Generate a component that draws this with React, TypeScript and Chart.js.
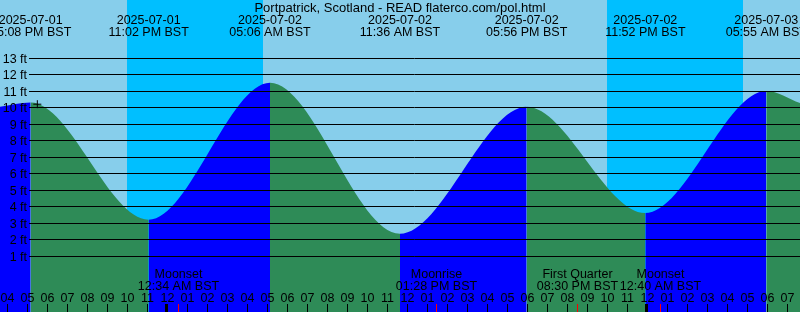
import React, { useEffect, useRef } from "react";
import { Chart, registerables } from "chart.js";

Chart.register(...registerables);

const TITLE = "Portpatrick, Scotland - READ flaterco.com/pol.html";

// Tide curve: chart-edge readings plus the high / low water extremes
const tideTimes = [
  "2025-07-01 15:36",
  "2025-07-01 17:08",
  "2025-07-01 23:02",
  "2025-07-02 05:06",
  "2025-07-02 11:36",
  "2025-07-02 17:56",
  "2025-07-02 23:52",
  "2025-07-03 05:55",
  "2025-07-03 07:36",
];
const tideHeights = [10.05, 10.3, 3.2, 11.5, 2.35, 10.05, 3.6, 11.0, 10.27];

// Labelled extremes along the top
const eventTimes = [
  "2025-07-01 17:08",
  "2025-07-01 23:02",
  "2025-07-02 05:06",
  "2025-07-02 11:36",
  "2025-07-02 17:56",
  "2025-07-02 23:52",
  "2025-07-03 05:55",
];
const eventDates = ["2025-07-01", "2025-07-01", "2025-07-02", "2025-07-02", "2025-07-02", "2025-07-02", "2025-07-03"];
const eventClock = ["05:08 PM BST", "11:02 PM BST", "05:06 AM BST", "11:36 AM BST", "05:56 PM BST", "11:52 PM BST", "05:55 AM BST"];

// Night (sunset -> sunrise)
const nightStarts = ["2025-07-01 21:58", "2025-07-02 21:58"];
const nightEnds = ["2025-07-02 04:46", "2025-07-03 04:46"];

// Moon events along the bottom
const moonTimes = ["2025-07-02 00:34", "2025-07-02 13:28", "2025-07-02 20:30", "2025-07-03 00:40"];
const moonNames = ["Moonset", "Moonrise", "First Quarter", "Moonset"];
const moonClock = ["12:34 AM BST", "01:28 PM BST", "08:30 PM BST", "12:40 AM BST"];

// Current-time marker
const nowTime = "2025-07-01 17:28";
const nowHeight = 10.2;

// Height gridlines (ft)
const heightTicks = [1, 2, 3, 4, 5, 6, 7, 8, 9, 10, 11, 12, 13];

const X_MIN = 15.6;
const X_MAX = 55.6;
const Y_MIN = -2.394;
const Y_MAX = 16.515;

const DAY = "#87CEEB";
const NIGHT = "#00BFFF";
const RISING = "#0000FF";
const FALLING = "#2E8B57";
const FONT = '12.5px "Liberation Sans", Arial, sans-serif';
const TITLE_FONT = '13px "Liberation Sans", Arial, sans-serif';

function toHours(s: string): number {
  const [d, t] = s.split(" ");
  const day = parseInt(d.slice(8, 10), 10) - 1;
  const [hh, mm] = t.split(":").map(Number);
  return day * 24 + hh + mm / 60;
}

const decorPlugin = {
  id: "tideDecor",
  beforeDraw(chart: any) {
    const { ctx, chartArea, scales } = chart;
    const x = scales.x;
    ctx.save();
    ctx.fillStyle = DAY;
    ctx.fillRect(0, 0, chart.width, chart.height);
    ctx.fillStyle = NIGHT;
    for (let i = 0; i < nightStarts.length; i++) {
      const x0 = Math.round(x.getPixelForValue(toHours(nightStarts[i])));
      const x1 = Math.round(x.getPixelForValue(toHours(nightEnds[i])));
      ctx.fillRect(x0, chartArea.top, x1 - x0, chartArea.bottom - chartArea.top);
    }
    ctx.restore();
  },
  afterDatasetsDraw(chart: any) {
    const { ctx, chartArea, scales } = chart;
    const x = scales.x;
    const y = scales.y;
    ctx.save();
    // height gridlines and labels
    ctx.strokeStyle = "#000";
    ctx.lineWidth = 1;
    ctx.fillStyle = "#000";
    ctx.font = FONT;
    ctx.textAlign = "right";
    ctx.textBaseline = "alphabetic";
    for (const ft of heightTicks) {
      const py = Math.round(y.getPixelForValue(ft));
      ctx.beginPath();
      ctx.moveTo(29, py + 0.5);
      ctx.lineTo(chartArea.right, py + 0.5);
      ctx.stroke();
      ctx.fillText(`${ft} ft`, 27, py + 5);
    }
    // hour ticks and labels
    ctx.textAlign = "center";
    const bottom = chartArea.bottom;
    for (let h = Math.ceil(X_MIN); h <= Math.floor(X_MAX); h++) {
      const px = x.getPixelForValue(h);
      const col = Math.floor(px - 0.5);
      if (h % 24 === 0) ctx.fillRect(col - 2, bottom - 8, 3, 8);
      else ctx.fillRect(col, bottom - 8, 1, 8);
      const hh = h % 24;
      const h12 = hh % 12 === 0 ? 12 : hh % 12;
      ctx.fillText(String(h12).padStart(2, "0"), col + 0.5, bottom - 10);
    }
    // moon events
    for (let i = 0; i < moonTimes.length; i++) {
      const px = x.getPixelForValue(toHours(moonTimes[i]));
      const col = Math.floor(px - 0.5);
      ctx.fillStyle = "#FF0000";
      ctx.fillRect(col, bottom - 8, 1, 8);
      ctx.fillStyle = "#000";
      ctx.fillText(moonNames[i], col + 0.5, bottom - 34);
      ctx.fillText(moonClock[i], col + 0.5, bottom - 22);
    }
    // tide event labels
    for (let i = 0; i < eventTimes.length; i++) {
      const px = x.getPixelForValue(toHours(eventTimes[i]));
      ctx.fillText(eventDates[i], px, 24);
      ctx.fillText(eventClock[i], px, 36);
    }
    // title
    ctx.font = TITLE_FONT;
    ctx.fillText(TITLE, (chartArea.left + chartArea.right) / 2, 12);
    ctx.restore();
  },
};

export default function App() {
  const canvasRef = useRef<HTMLCanvasElement | null>(null);

  useEffect(() => {
    document.body.style.margin = "0";
    const canvas = canvasRef.current;
    if (!canvas) return;
    const tideData = tideTimes.map((t, i) => ({ x: toHours(t), y: tideHeights[i] }));
    const chart = new Chart(canvas, {
      type: "line",
      data: {
        datasets: [
          {
            type: "scatter",
            data: [{ x: toHours(nowTime), y: nowHeight }],
            pointStyle: "cross",
            pointRadius: 4,
            borderColor: "#000",
            backgroundColor: "#000",
            borderWidth: 1,
          } as any,
          {
            type: "line",
            data: tideData,
            cubicInterpolationMode: "monotone",
            borderColor: "rgba(0,0,0,0)",
            borderWidth: 0,
            pointRadius: 0,
            fill: "start",
            backgroundColor: RISING,
            segment: {
              backgroundColor: (c: any) => (c.p1.parsed.y > c.p0.parsed.y ? RISING : FALLING),
            },
          } as any,
        ],
      },
      options: {
        responsive: false,
        devicePixelRatio: 1,
        animation: false,
        events: [],
        layout: { padding: 0, autoPadding: false },
        plugins: { legend: { display: false }, tooltip: { enabled: false }, title: { display: false } },
        scales: {
          x: { type: "linear", display: false, min: X_MIN, max: X_MAX },
          y: { type: "linear", display: false, min: Y_MIN, max: Y_MAX },
        },
      },
      plugins: [decorPlugin],
    });
    return () => chart.destroy();
  }, []);

  return (
    <div style={{ width: 800, height: 312, overflow: "hidden" }}>
      <style>{"body{margin:0}"}</style>
      <canvas ref={canvasRef} width={800} height={312} style={{ display: "block" }} />
    </div>
  );
}
